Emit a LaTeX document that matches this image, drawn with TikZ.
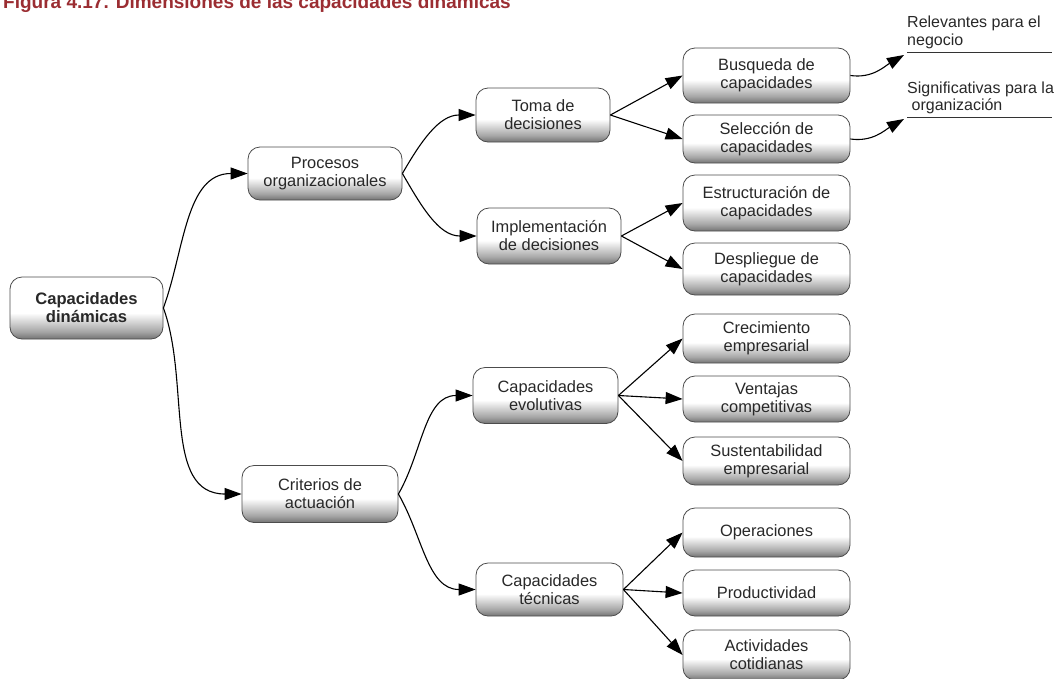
\documentclass[tikz,border=0pt]{standalone}
\usepackage{fontspec}
\setmainfont{Liberation Sans}
\usetikzlibrary{arrows.meta}
\definecolor{titlered}{RGB}{155,45,50}
\definecolor{inktext}{RGB}{40,40,40}
% white top fading to grey at the bottom of each box
\pgfdeclareverticalshading{boxshade}{100bp}{color(0bp)=(black!55); color(25bp)=(black!55); color(31bp)=(black!35); color(46bp)=(white); color(100bp)=(white)}

\begin{document}
\begin{tikzpicture}[x=1pt,y=1pt,
  box/.style 2 args={draw=black!70, line width=0.8pt, rounded corners=12pt,
    shading=boxshade, align=center, inner sep=0pt, text=inktext,
    font=\fontsize{16.4}{18}\selectfont,
    minimum width=#1, minimum height=#2},
  leaf/.style={box={167pt}{#1}},
  arr/.style={draw=black, line width=1.1pt, -{Triangle[length=17pt,width=12pt]}},
  sidetext/.style={anchor=base west, inner sep=0pt, text=inktext, font=\fontsize{16}{18}\selectfont},
  rule/.style={draw=black!80, line width=1pt}
]
\useasboundingbox (0,0) rectangle (1054,-678);

% title
\node[anchor=base west, inner sep=0pt, text=titlered,
  font=\bfseries\fontsize{19}{22}\selectfont] (title) at (3,-8)
  {Figura 4.17. Dimensiones de las capacidades dinámicas};

% root
\node[box={153pt}{62pt}, font=\bfseries\fontsize{16.6}{18}\selectfont] (cd) at (86.5,-308) {Capacidades\\dinámicas};

% second level
\node[box={154pt}{53pt}] (po) at (325,-173.5) {Procesos\\organizacionales};
\node[box={156pt}{57pt}] (ca) at (320,-494) {Criterios de\\actuación};

% third level
\node[box={134pt}{54pt}] (td) at (543,-115) {Toma de\\decisiones};
\node[box={144pt}{56pt}] (id) at (549,-236) {Implementación\\de decisiones};
\node[box={145pt}{56pt}] (ce) at (545.5,-395.5) {Capacidades\\evolutivas};
\node[box={147pt}{53pt}] (ct) at (549.5,-589.5) {Capacidades\\técnicas};

% leaves
\node[leaf={55pt}] (bu) at (766.5,-75.5) {Busqueda de\\capacidades};
\node[leaf={48pt}] (se) at (766.5,-139) {Selección de\\capacidades};
\node[leaf={56pt}] (es) at (766.5,-203) {Estructuración de\\capacidades};
\node[leaf={52pt}] (de) at (766.5,-269) {Despliegue de\\capacidades};
\node[leaf={49pt}] (cr) at (766.5,-338.5) {Crecimiento\\empresarial};
\node[leaf={46pt}] (ve) at (766.5,-399) {Ventajas\\competitivas};
\node[leaf={48pt}] (su) at (766.5,-461) {Sustentabilidad\\empresarial};
\node[leaf={49pt}] (op) at (766.5,-532.5) {Operaciones};
\node[leaf={46pt}] (pr) at (766.5,-593) {Productividad};
\node[leaf={50pt}] (ac) at (766.5,-655) {Actividades\\cotidianas};

% notes on the right
\node[sidetext] (n1a) at (907,-27) {Relevantes para el};
\node[sidetext] (n1b) at (907,-45) {negocio};
\node[sidetext] (n2a) at (907,-93) {Significativas para la};
\node[sidetext] (n2b) at (907,-110) {\ organización};
\coordinate (l1a) at (907,-52);
\coordinate (l1b) at (1052,-52);
\coordinate (l2a) at (907,-117);
\coordinate (l2b) at (1052,-117);
\draw[rule] (l1a) -- (l1b);
\draw[rule] (l2a) -- (l2b);
\coordinate (r1) at (904,-55);
\coordinate (r2) at (904,-119);

% curved connectors
\draw[arr] (cd.east) to[out=70,in=180] (po.west);
\draw[arr] (cd.east) to[out=-70,in=180] (ca.west);
\draw[arr] (po.east) to[out=60,in=180] (td.west);
\draw[arr] (po.east) to[out=-60,in=180] (id.west);
\draw[arr] (ca.east) to[out=60,in=180] (ce.west);
\draw[arr] (ca.east) to[out=-60,in=180] (ct.west);

% straight connectors
\draw[arr] (td.east) -- (bu.west);
\draw[arr] (td.east) -- (se.west);
\draw[arr] (id.east) -- (es.west);
\draw[arr] (id.east) -- (de.west);
\draw[arr] (ce.east) -- (cr.west);
\draw[arr] (ce.east) -- (ve.west);
\draw[arr] (ce.east) -- (su.west);
\draw[arr] (ct.east) -- (op.west);
\draw[arr] (ct.east) -- (pr.west);
\draw[arr] (ct.east) -- (ac.west);

% links to the notes
\draw[arr] (bu.east) to[out=-8,in=210] (r1);
\draw[arr] (se.east) to[out=-8,in=210] (r2);
\end{tikzpicture}
\end{document}
